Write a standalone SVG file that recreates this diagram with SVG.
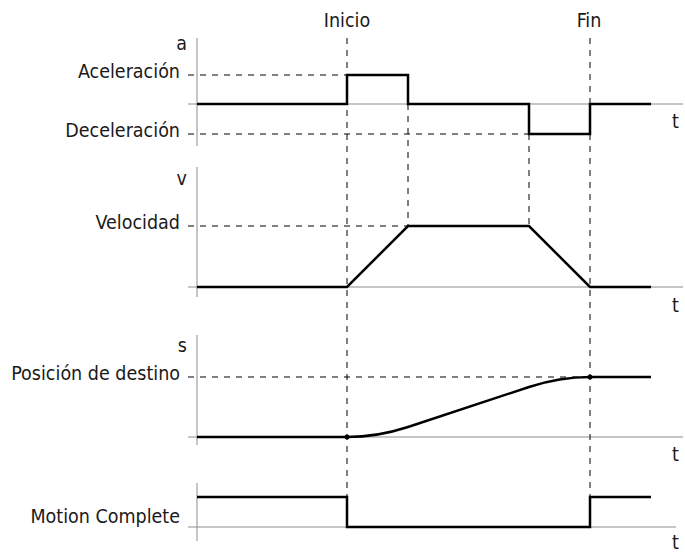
<svg xmlns="http://www.w3.org/2000/svg" width="685" height="555" viewBox="0 0 685 555">
<style>
.ax{stroke:#8c8c8c;stroke-width:1;fill:none}
.sig{stroke:#000;stroke-width:2.5;fill:none;stroke-linejoin:miter}
.dash{stroke:#000;stroke-width:1;stroke-dasharray:6,6;fill:none}
text{font-family:"DejaVu Sans Condensed","DejaVu Sans","Liberation Sans",sans-serif;font-stretch:condensed;font-size:19.5px;fill:#1a1a1a}
.r{text-anchor:end}
.m{text-anchor:middle}
</style>
<rect width="685" height="555" fill="#fff"/>
<g id="axes">
<line class="ax" x1="197" y1="38" x2="197" y2="146"/>
<line class="ax" x1="188" y1="104" x2="683" y2="104"/>
<line class="ax" x1="197" y1="167" x2="197" y2="297"/>
<line class="ax" x1="188" y1="287" x2="683" y2="287"/>
<line class="ax" x1="197" y1="335" x2="197" y2="445"/>
<line class="ax" x1="188" y1="437" x2="683" y2="437"/>
<line class="ax" x1="197" y1="483" x2="197" y2="541"/>
<line class="ax" x1="188" y1="527" x2="676" y2="527"/>
</g>
<g id="connectors">
<line class="dash" x1="347" y1="38" x2="347" y2="497"/>
<line class="dash" x1="590" y1="38" x2="590" y2="497"/>
<line class="dash" x1="408" y1="104" x2="408" y2="226"/>
<line class="dash" x1="529" y1="134" x2="529" y2="226"/>
<line class="dash" x1="188" y1="75" x2="347" y2="75"/>
<line class="dash" x1="188" y1="134" x2="529" y2="134"/>
<line class="dash" x1="188" y1="226" x2="408" y2="226"/>
<line class="dash" x1="188" y1="377" x2="590" y2="377"/>
</g>
<g id="signal-a">
<polyline class="sig" points="197,104 347,104 347,75 408,75 408,104 529,104 529,134 590,134 590,104 651,104"/>
</g>
<g id="signal-v">
<polyline class="sig" points="197,287 347,287 408,226 529,226 590,287 651,287"/>
</g>
<g id="signal-s">
<path class="sig" d="M197,437 L347,437 Q377.5,437 408,427 L529,387 Q559.5,377 590,377 L651,377"/>
<circle cx="347" cy="437" r="2.5" fill="#000"/>
<circle cx="590" cy="377" r="2.5" fill="#000"/>
</g>
<g id="signal-mc">
<polyline class="sig" points="197,497 347,497 347,527 590,527 590,497 651,497"/>
</g>
<g id="labels">
<text class="m" x="347" y="27">Inicio</text>
<text class="m" x="589" y="27">Fin</text>
<text class="r" x="187" y="50">a</text>
<text class="r" x="180" y="78">Aceleración</text>
<text class="r" x="180" y="137">Deceleración</text>
<text x="672" y="128">t</text>
<text class="r" x="187" y="185">v</text>
<text class="r" x="180" y="229">Velocidad</text>
<text x="672" y="312">t</text>
<text class="r" x="187" y="352">s</text>
<text class="r" x="180" y="380">Posición de destino</text>
<text x="672" y="461">t</text>
<text class="r" x="180" y="523">Motion Complete</text>
<text x="672" y="549">t</text>
</g>
</svg>
